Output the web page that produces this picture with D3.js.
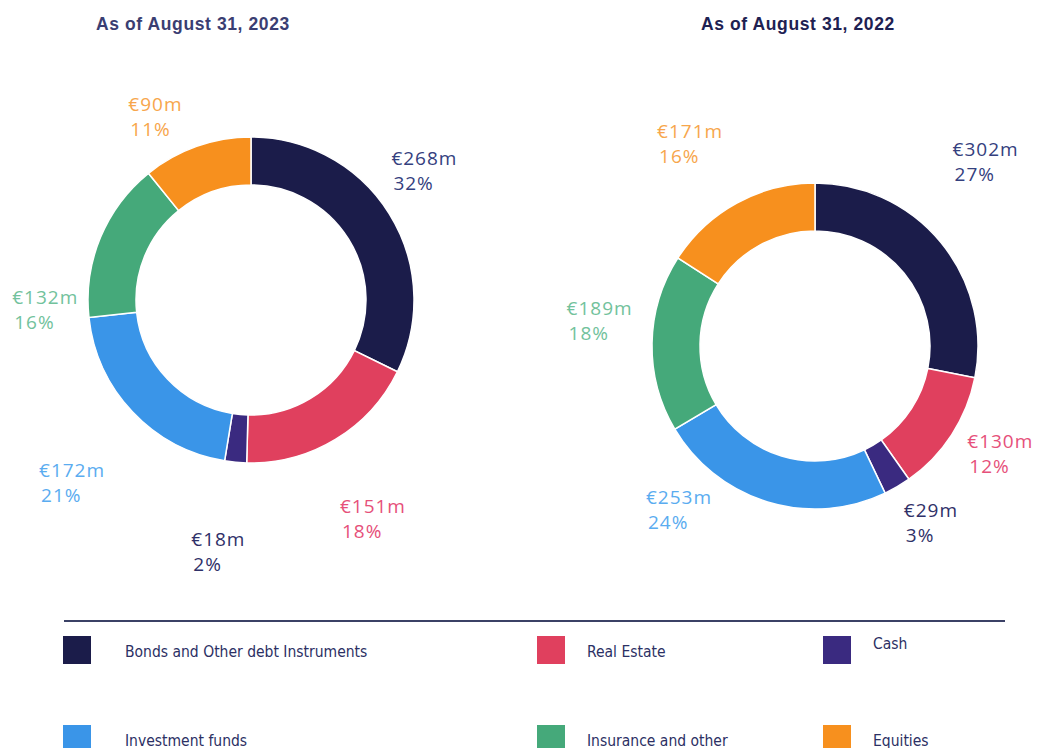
<!DOCTYPE html>
<html>
<head>
<meta charset="utf-8">
<script src="https://cdn.jsdelivr.net/npm/d3@7"></script>
<style>
  body { margin: 0; background: #fff; }
  svg { display: block; }
</style>
</head>
<body>
<svg id="drawing_region"></svg>
<script>
// categories in clockwise order from 12 o'clock
const categories = ["Bonds and Other debt Instruments", "Real Estate", "Cash", "Investment funds", "Insurance and other", "Equities"];
const values2023 = [268, 151, 18, 172, 132, 90];
const values2022 = [302, 130, 29, 253, 189, 171];
const pct2023 = ["32%", "18%", "2%", "21%", "16%", "11%"];
const pct2022 = ["27%", "12%", "3%", "24%", "18%", "16%"];
const titles = ["As of August 31, 2023", "As of August 31, 2022"];

const colors = ["#1b1c4a", "#e0405e", "#3a2a80", "#3a95e8", "#45a97a", "#f7901e"];
const labelColors = ["#34407e", "#e6507a", "#2f3068", "#5aacf0", "#72c29c", "#f7a64c"];

// label placement: angle shift (deg) and distance from centre, per slice
const labelLayout = [
    { da: [-5, 2, 2, -2, -25, -8], r: [217, 250, 253, 255, 206, 207] },
    { da: [-8, -3, -3, 23, 6, -3], r: [252, 214, 211, 212, 217, 238] }
];

const config = {
    width: 1038, height: 748,
    centers: [[251, 300], [815, 346]],
    outer: 163, inner: 115
};

const svg = d3.select('#drawing_region')
    .attr('width', config.width)
    .attr('height', config.height);

const pie = d3.pie().sort(null).value(d => d.value);
const arc = d3.arc().innerRadius(config.inner).outerRadius(config.outer);

function drawDonut(i, values, pcts) {
    const [cx, cy] = config.centers[i];
    const data = categories.map((c, k) => ({ label: c, value: values[k], pct: pcts[k], k: k }));
    const g = svg.append('g').attr('transform', `translate(${cx},${cy})`);

    g.selectAll('path')
        .data(pie(data))
        .enter()
        .append('path')
        .attr('d', arc)
        .attr('fill', d => colors[d.data.k])
        .attr('stroke', '#fff')
        .attr('stroke-width', 1.5);

    const lay = labelLayout[i];
    const labels = g.selectAll('g.lab')
        .data(pie(data))
        .enter()
        .append('g')
        .attr('class', 'lab');

    labels.each(function(d) {
        const mid = (d.startAngle + d.endAngle) / 2 + lay.da[d.data.k] * Math.PI / 180;
        const r = lay.r[d.data.k];
        const x = r * Math.sin(mid), y = -r * Math.cos(mid);
        const sel = d3.select(this);
        const t1 = sel.append('text')
            .attr('y', y - 5)
            .text(`€${d.data.value}m`);
        sel.append('text')
            .attr('y', y + 20)
            .attr('dx', 2)
            .text(d.data.pct);
        sel.selectAll('text')
            .attr('fill', labelColors[d.data.k])
            .style('font-family', '"Open Sans", "Noto Sans", sans-serif')
            .style('font-size', '19px')
            .style('letter-spacing', '1px');
        const w = t1.node().getComputedTextLength();
        sel.selectAll('text').attr('x', x - w / 2);
    });

    svg.append('text')
        .attr('x', i === 0 ? 96 : 701)
        .attr('y', 30)
        .attr('fill', i === 0 ? '#3a3e72' : '#1e2152')
        .style('font-family', '"Liberation Sans", Arial, sans-serif')
        .style('font-weight', 'bold')
        .style('font-size', '17.5px')
        .style('letter-spacing', '0.6px')
        .text(titles[i]);
}

drawDonut(0, values2023, pct2023);
drawDonut(1, values2022, pct2022);

// legend
svg.append('line')
    .attr('x1', 64).attr('x2', 1005)
    .attr('y1', 621).attr('y2', 621)
    .attr('stroke', '#3b4166')
    .attr('stroke-width', 2);

const legX = [63, 537, 823];
const legY = [636, 725];
const legend = svg.selectAll('g.leg')
    .data(categories)
    .enter()
    .append('g')
    .attr('class', 'leg')
    .attr('transform', (d, k) => `translate(${legX[k % 3]}, ${legY[Math.floor(k / 3)]})`);

legend.append('rect')
    .attr('width', 28)
    .attr('height', 28)
    .attr('fill', (d, k) => colors[k]);

legend.append('text')
    .attr('x', (d, k) => k % 3 === 0 ? 62 : 50)
    .attr('y', (d, k) => k === 2 ? 13 : 21)
    .attr('fill', '#2c3064')
    .style('font-family', '"Liberation Sans Narrow", "DejaVu Sans Condensed", sans-serif')
    .style('font-size', '15.5px')
    .text(d => d);
</script>
</body>
</html>
